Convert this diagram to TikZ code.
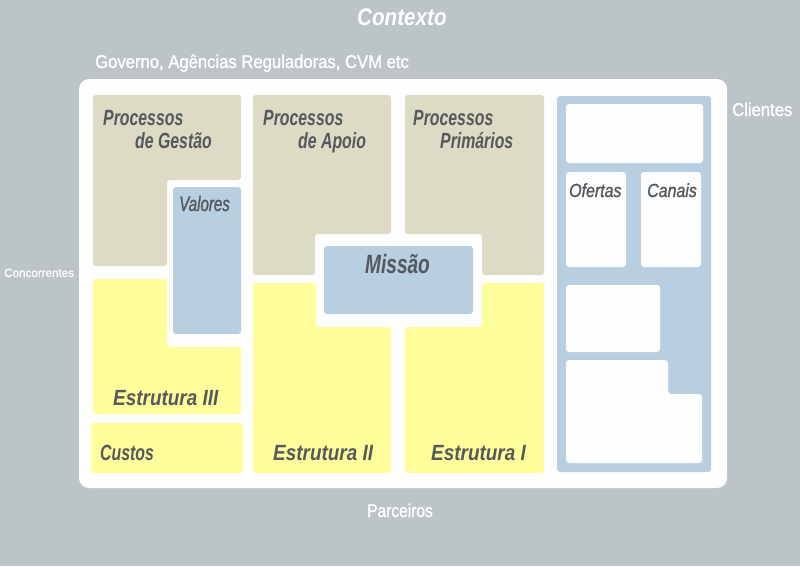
\documentclass[tikz,border=0pt]{standalone}
\usepackage{fontspec}
\newfontfamily\fA{Liberation Sans}[FakeStretch=0.72]
\newfontfamily\fAm{Liberation Sans}[FakeStretch=0.72,FakeBold=1.2]
\newfontfamily\fB{Liberation Sans}[FakeStretch=0.86]
\newfontfamily\fBm{Liberation Sans}[FakeStretch=0.84,FakeBold=1.2]
\newfontfamily\fCm{Liberation Sans}[FakeStretch=0.9,FakeBold=1.2]
\newfontfamily\fDm{Liberation Sans}[FakeStretch=0.97,FakeBold=1]
\definecolor{bgc}{HTML}{BDC4C7}
\definecolor{beige}{HTML}{DDDAC5}
\definecolor{yel}{HTML}{FFFE9A}
\definecolor{blu}{HTML}{B8CFE1}
\definecolor{wht}{HTML}{FEFEFE}
\definecolor{txt}{HTML}{55595D}
\tikzset{
  boxlbl/.style={anchor=base west,inner sep=0pt,text=txt,font=\fA\bfseries\itshape\fontsize{22}{22}\selectfont},
  boxlblw/.style={anchor=base west,inner sep=0pt,text=txt,font=\fB\bfseries\itshape\fontsize{22}{22}\selectfont},
  smalllbl/.style={anchor=base west,inner sep=0pt,text=txt,font=\fAm\itshape\fontsize{21}{21}\selectfont},
  outlbl/.style={anchor=base west,inner sep=0pt,text=white},
  area/.style={rounded corners=3pt},
}
\begin{document}
\begin{tikzpicture}[x=1pt,y=-1pt]
\fill[bgc] (0,0) rectangle (800,566);
\useasboundingbox (0,0) rectangle (800,566);
\fill[wht,rounded corners=10pt] (79,79) rectangle (727,488);
% beige process areas
\fill[beige,area] (93,95) -- (241,95) -- (241,180) -- (167,180) -- (167,266) -- (93,266) -- cycle;
\fill[beige,area] (253,95) -- (391,95) -- (391,234) -- (315,234) -- (315,275) -- (253,275) -- cycle;
\fill[beige,area] (405,95) -- (544,95) -- (544,275) -- (482,275) -- (482,234) -- (405,234) -- cycle;
% blue
\fill[blu,area] (173,187) rectangle (241,334);
\fill[blu,area] (324,246) rectangle (473,314);
% yellow structures
\fill[yel,area] (93,279) -- (167,279) -- (167,347) -- (241,347) -- (241,414) -- (93,414) -- cycle;
\fill[yel,area] (91,423) rectangle (243,473);
\fill[yel,area] (253,283) -- (316,283) -- (316,327) -- (391,327) -- (391,473) -- (253,473) -- cycle;
\fill[yel,area] (405,327) -- (482,327) -- (482,283) -- (544,283) -- (544,473) -- (405,473) -- cycle;
% clients panel
\fill[blu,area] (557,96) rectangle (711,472);
\fill[wht,area] (566,104) rectangle (703,163);
\fill[wht,area] (566,172) rectangle (626,267);
\fill[wht,area] (641,172) rectangle (701,267);
\fill[wht,area] (566,285) rectangle (660,352);
\fill[wht,area] (566,360) -- (668,360) -- (668,394) -- (702,394) -- (702,463) -- (566,463) -- cycle;
% labels
\node[boxlbl] (pg1) at (103,125) {Processos};
\node[boxlbl] (pg2) at (135,148) {de Gestão};
\node[boxlbl] (pa1) at (263,125) {Processos};
\node[boxlbl] (pa2) at (298,148) {de Apoio};
\node[boxlbl] (pp1) at (413,125) {Processos};
\node[boxlbl] (pp2) at (440,148) {Primários};
\node[smalllbl] (val) at (179,211) {Valores};
\node[boxlbl,font=\fA\bfseries\itshape\fontsize{26.5}{26.5}\selectfont] (mis) at (365,273) {Missão};
\node[boxlblw] (e3) at (113,405) {Estrutura III};
\node[boxlbl] (cus) at (100,460) {Custos};
\node[boxlblw] (e2) at (273,460) {Estrutura II};
\node[boxlblw] (e1) at (431,460) {Estrutura I};
\node[smalllbl,font=\fBm\itshape\fontsize{19}{19}\selectfont] (of) at (569,197) {Ofertas};
\node[smalllbl,font=\fBm\itshape\fontsize{19}{19}\selectfont] (can) at (647,197) {Canais};
% outside labels
\node[outlbl,font=\fB\bfseries\itshape\fontsize{24}{24}\selectfont] (ctx) at (357,25) {Contexto};
\node[outlbl,font=\fCm\fontsize{18.5}{18.5}\selectfont] (gov) at (95,68) {Governo, Agências Reguladoras, CVM etc};
\node[outlbl,font=\fCm\fontsize{18.5}{18.5}\selectfont] (cli) at (732,116) {Clientes};
\node[outlbl,font=\fDm\fontsize{12}{12}\selectfont] (con) at (4,277) {Concorrentes};
\node[outlbl,font=\fBm\fontsize{18.5}{18.5}\selectfont] (par) at (367,517) {Parceiros};
\end{tikzpicture}
\end{document}
